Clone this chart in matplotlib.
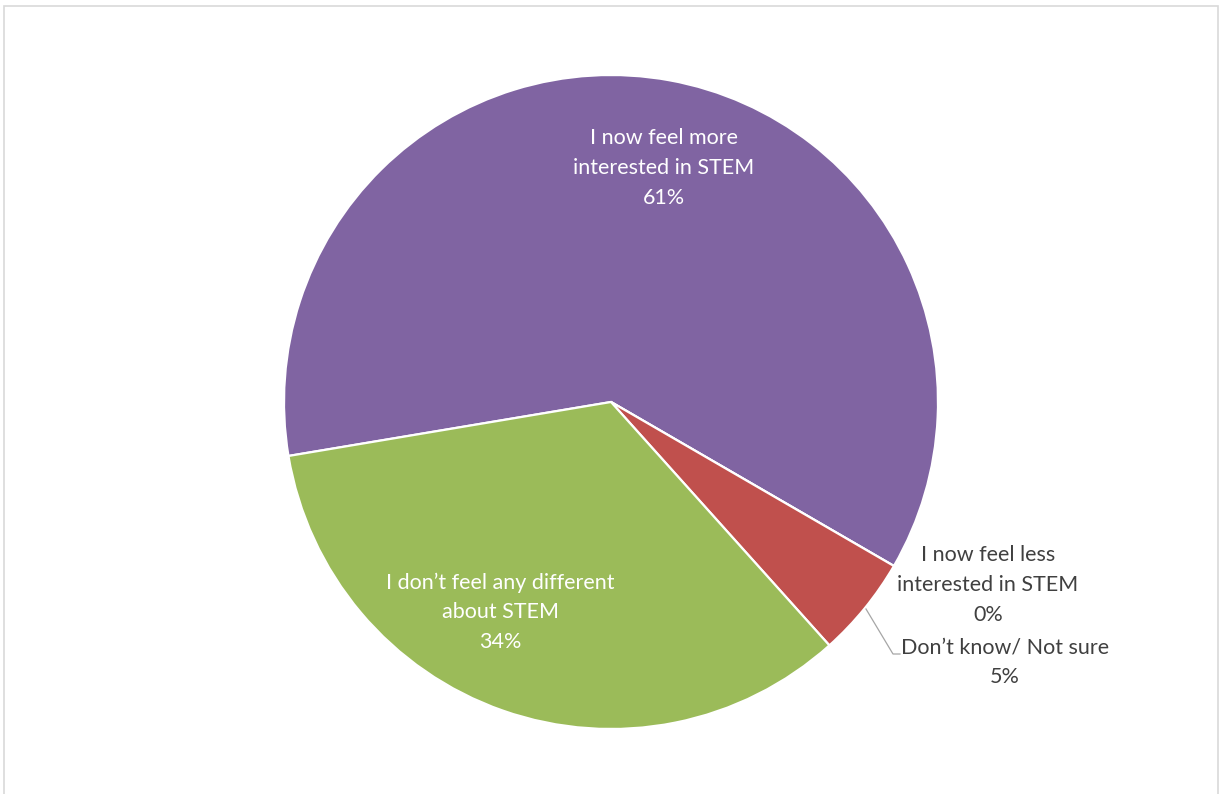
import matplotlib
matplotlib.use("Agg")
import matplotlib.pyplot as plt
from matplotlib.patches import Rectangle

categories = [
    "I now feel more\ninterested in STEM",
    "I now feel less\ninterested in STEM",
    "Don\u2019t know/ Not sure",
    "I don\u2019t feel any different\nabout STEM",
]
values = [61, 0, 5, 34]
colors = ["#8064A2", "#4F81BD", "#C0504D", "#9BBB59"]

W, H = 1220, 794
fig = plt.figure(figsize=(W / 100, H / 100), dpi=100)
ax = fig.add_axes([0, 0, 1, 1])

# chart-area frame
ax.add_patch(Rectangle((4, -10), 1214, H - 6 + 10, fill=False,
                       edgecolor="#D9D9D9", linewidth=1.2))

cx, cy, r = 611, H - 402, 327
wedges, _ = ax.pie(values, colors=colors, startangle=189.5, counterclock=False,
                   center=(cx, cy), radius=r, frame=True,
                   wedgeprops=dict(edgecolor="white", linewidth=1.6))
ax.set_xlim(0, W)
ax.set_ylim(0, H)
ax.set_aspect("equal")
ax.axis("off")

font = dict(family="Lato", fontsize=15.5, ha="center", va="center",
            linespacing=1.6)
ax.text(664, H - 168, f"{categories[0]}\n{values[0]}%", color="white", **font)
ax.text(500, H - 612, f"{categories[3]}\n{values[3]}%", color="white", **font)
ax.text(988, H - 585, f"{categories[1]}\n{values[1]}%", color="#404040", **font)
ax.text(1005, H - 662, f"{categories[2]}\n{values[2]}%", color="#404040", **font)

# leader line for the small slice
ax.plot([866, 893, 900], [H - 609, H - 654, H - 654], color="#A6A6A6",
        linewidth=0.9)

fig.savefig("out.png", dpi=100, facecolor="white")
